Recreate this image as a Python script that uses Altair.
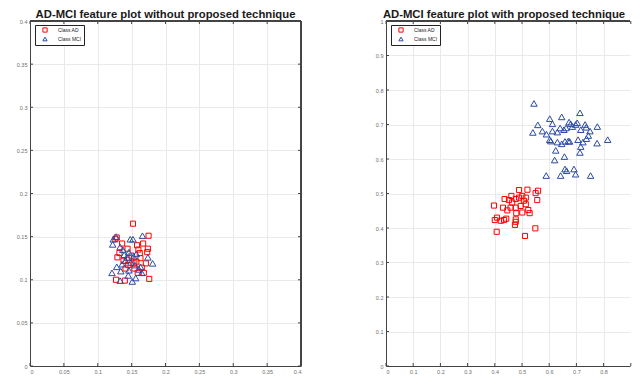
import altair as alt
import pandas as pd

classes = ["Class AD", "Class MCI"]

# Left panel: without proposed technique
left_ad_x = [0.152, 0.175, 0.128, 0.126, 0.136, 0.144, 0.158, 0.167, 0.174, 0.173, 0.162, 0.132, 0.129, 0.146, 0.163,
             0.171, 0.154, 0.141, 0.168, 0.127, 0.140, 0.176, 0.154, 0.159, 0.150, 0.157, 0.145, 0.160, 0.138, 0.165]
left_ad_y = [0.165, 0.151, 0.149, 0.147, 0.142, 0.136, 0.140, 0.142, 0.136, 0.132, 0.131, 0.131, 0.126, 0.125, 0.125,
             0.119, 0.119, 0.113, 0.108, 0.100, 0.099, 0.101, 0.113, 0.108, 0.128, 0.121, 0.117, 0.135, 0.122, 0.114]
left_mci_x = [0.123, 0.122, 0.127, 0.148, 0.152, 0.166, 0.133, 0.139, 0.146, 0.141, 0.153, 0.136, 0.174, 0.181, 0.128,
              0.121, 0.134, 0.146, 0.161, 0.165, 0.133, 0.151, 0.156, 0.145, 0.163, 0.149, 0.157, 0.137, 0.143, 0.155]
left_mci_y = [0.147, 0.141, 0.150, 0.147, 0.147, 0.151, 0.138, 0.129, 0.132, 0.122, 0.127, 0.118, 0.126, 0.119, 0.115,
              0.108, 0.110, 0.111, 0.112, 0.108, 0.099, 0.098, 0.102, 0.105, 0.115, 0.120, 0.130, 0.135, 0.126, 0.117]

# Right panel: with proposed technique
right_ad_x = [0.489, 0.520, 0.559, 0.550, 0.556, 0.461, 0.436, 0.452, 0.464, 0.477, 0.489, 0.501, 0.514, 0.507,
              0.397, 0.430, 0.446, 0.458, 0.477, 0.495, 0.514, 0.479, 0.501, 0.523, 0.528, 0.400, 0.408, 0.422,
              0.434, 0.442, 0.477, 0.477, 0.474, 0.407, 0.511, 0.549]
right_ad_y = [0.510, 0.511, 0.508, 0.501, 0.481, 0.493, 0.484, 0.481, 0.474, 0.484, 0.488, 0.493, 0.488, 0.479,
              0.465, 0.459, 0.451, 0.459, 0.459, 0.464, 0.469, 0.443, 0.445, 0.452, 0.443, 0.423, 0.430, 0.421,
              0.423, 0.427, 0.425, 0.418, 0.409, 0.389, 0.377, 0.399]
right_mci_x = [0.544, 0.602, 0.646, 0.713, 0.612, 0.558, 0.540, 0.575, 0.590, 0.612, 0.630, 0.654, 0.673, 0.679,
               0.685, 0.703, 0.716, 0.732, 0.736, 0.750, 0.777, 0.602, 0.606, 0.630, 0.646, 0.658, 0.670, 0.675,
               0.706, 0.724, 0.737, 0.744, 0.716, 0.713, 0.776, 0.815, 0.624, 0.620, 0.656, 0.658, 0.664, 0.691,
               0.697, 0.642, 0.589, 0.752, 0.662, 0.697, 0.640]
right_mci_y = [0.761, 0.717, 0.722, 0.734, 0.702, 0.699, 0.677, 0.681, 0.672, 0.681, 0.678, 0.685, 0.707, 0.702,
               0.694, 0.705, 0.685, 0.700, 0.692, 0.681, 0.694, 0.656, 0.652, 0.649, 0.644, 0.651, 0.652, 0.651,
               0.656, 0.649, 0.659, 0.668, 0.636, 0.619, 0.646, 0.656, 0.625, 0.597, 0.607, 0.571, 0.566, 0.571,
               0.556, 0.552, 0.552, 0.552, 0.690, 0.700, 0.690]

left_xticks = [0, 0.05, 0.1, 0.15, 0.2, 0.25, 0.3, 0.35, 0.4]
left_yticks = [0, 0.05, 0.1, 0.15, 0.2, 0.25, 0.3, 0.35, 0.4]
right_xticks = [0, 0.1, 0.2, 0.3, 0.4, 0.5, 0.6, 0.7, 0.8, 0.9]
right_yticks = [0, 0.1, 0.2, 0.3, 0.4, 0.5, 0.6, 0.7, 0.8, 0.9, 1]

title_left = "AD-MCI feature plot without proposed technique"
title_right = "AD-MCI feature plot with proposed technique"

RED = "#ff0000"
BLUE = "#2b4aa5"
FRAME = "#444444"
FONT = "Liberation Sans"


def make_df(ax, ay, mx, my):
    return pd.DataFrame({
        "x": ax + mx,
        "y": ay + my,
        "cls": [classes[0]] * len(ax) + [classes[1]] * len(mx),
    })


def panel(data, xdom, ydom, xticks, yticks, W, H, title, dx, right_border):
    xs = alt.Scale(domain=xdom, nice=False, zero=False)
    ys = alt.Scale(domain=ydom, nice=False, zero=False)
    ax_style = dict(labelFontSize=5.5, labelFont=FONT, labelColor="#707070", domainColor=FRAME,
                    domainWidth=1, grid=True, gridColor="#e4e4e4", gridWidth=0.8, ticks=False,
                    tickSize=0, labelPadding=3, format="~g", title=None)
    xaxis = alt.Axis(values=xticks, **ax_style)
    yaxis = alt.Axis(values=yticks, **ax_style)
    pts = alt.Chart(data).mark_point(filled=False, strokeWidth=1, opacity=1).encode(
        x=alt.X("x:Q", scale=xs, axis=xaxis),
        y=alt.Y("y:Q", scale=ys, axis=yaxis),
        color=alt.Color("cls:N", scale=alt.Scale(domain=classes, range=[RED, BLUE]),
                        legend=alt.Legend(title=None, orient="none", legendX=5, legendY=4,
                                          labelFontSize=5, labelFont=FONT, labelColor="#222222",
                                          symbolSize=18, symbolStrokeWidth=1, strokeColor="#222222",
                                          fillColor="white", padding=2, rowPadding=0, labelOffset=10,
                                          symbolOffset=5)),
        shape=alt.Shape("cls:N", scale=alt.Scale(domain=classes, range=["square", "triangle-up"])),
        size=alt.Size("cls:N", scale=alt.Scale(domain=classes, range=[26, 42]), legend=None),
    )
    xt = pd.DataFrame({"x": xticks})
    yt = pd.DataFrame({"y": yticks})
    tick_style = dict(color=FRAME, strokeWidth=1)
    bottom = alt.Chart(xt).mark_rule(**tick_style).encode(
        x=alt.X("x:Q", scale=xs, axis=xaxis), y=alt.value(H), y2=alt.value(H - 3))
    top = alt.Chart(xt).mark_rule(**tick_style).encode(
        x=alt.X("x:Q", scale=xs, axis=xaxis), y=alt.value(0), y2=alt.value(3))
    leftt = alt.Chart(yt).mark_rule(**tick_style).encode(
        y=alt.Y("y:Q", scale=ys, axis=yaxis), x=alt.value(0), x2=alt.value(3))
    top_border = alt.Chart(xt).mark_rule(**tick_style).encode(
        x=alt.value(0), x2=alt.value(W), y=alt.value(0))
    layers = [bottom, top, leftt, top_border]
    if right_border:
        rightt = alt.Chart(yt).mark_rule(**tick_style).encode(
            y=alt.Y("y:Q", scale=ys, axis=yaxis), x=alt.value(W), x2=alt.value(W - 3))
        rb = alt.Chart(yt).mark_rule(**tick_style).encode(
            x=alt.value(W), y=alt.value(0), y2=alt.value(H))
        layers += [rightt, rb]
    return alt.layer(pts, *layers).properties(
        width=W, height=H,
        title=alt.TitleParams(title, fontSize=11.3, fontWeight="bold", font=FONT, color="#1a1a1a",
                              offset=-1.5, dx=dx, anchor="middle"),
    )


left_df = make_df(left_ad_x, left_ad_y, left_mci_x, left_mci_y)
right_df = make_df(right_ad_x, right_ad_y, right_mci_x, right_mci_y)

W_L, H = 271, 345
W_R = 244
left = panel(left_df, [0, 0.4], [0, 0.4], left_xticks, left_yticks, W_L, H, title_left, 0, True)
right = panel(right_df, [0, W_R / 272], [0, 1], right_xticks, right_yticks, W_R, H, title_right, -4, False)

chart = alt.hconcat(left, right, spacing=72).resolve_legend(
    color="independent", shape="independent"
).properties(
    padding={"left": 7, "top": 0, "right": 0, "bottom": 0},
    background="white",
).configure_view(stroke="transparent")

chart.save("out.html", embed_options={"renderer": "svg", "actions": False})
